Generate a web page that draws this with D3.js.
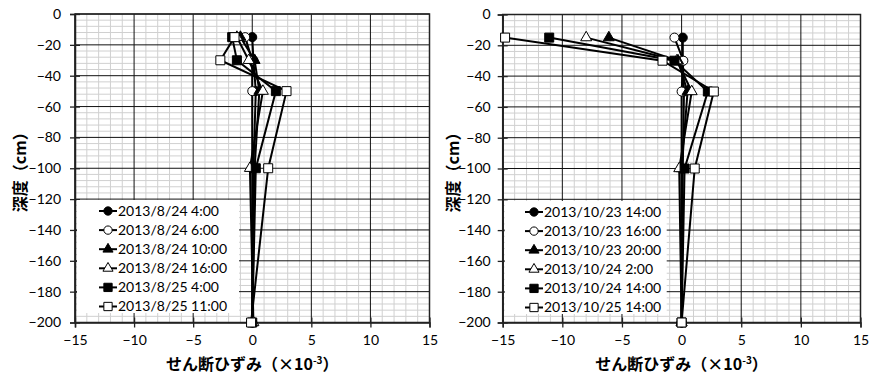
<!DOCTYPE html>
<html><head><meta charset="utf-8">
<script src="https://cdn.jsdelivr.net/npm/d3@7/dist/d3.min.js"></script>
<style>body{margin:0;background:#fff}</style>
</head><body>
<svg id="c" width="880" height="378"></svg>
<script>
// ---- data ----
const depths = [-15, -30, -50, -100, -200];
const xTicks = [-15, -10, -5, 0, 5, 10, 15];
const yTicks = [0, -20, -40, -60, -80, -100, -120, -140, -160, -180, -200];

const leftNames = ["2013/8/24 4:00", "2013/8/24 6:00", "2013/8/24 10:00",
                   "2013/8/24 16:00", "2013/8/25 4:00", "2013/8/25 11:00"];
const leftValues = [
  [0.0, 0.1, 0.3, 0.1, 0.0],
  [-0.6, 0.0, 0.0, 0.0, 0.0],
  [-1.0, 0.2, 0.6, 0.2, 0.0],
  [-1.3, -0.3, 0.9, -0.2, 0.1],
  [-1.7, -1.3, 2.0, 0.3, 0.0],
  [-1.5, -2.7, 2.9, 1.35, -0.1]
];

const rightNames = ["2013/10/23 14:00", "2013/10/23 16:00", "2013/10/23 20:00",
                    "2013/10/24 2:00", "2013/10/24 14:00", "2013/10/25 14:00"];
const rightValues = [
  [0.1, 0.1, 0.2, 0.1, 0.0],
  [-0.6, 0.15, 0.0, 0.0, 0.0],
  [-6.1, -0.3, 0.5, 0.0, 0.0],
  [-8.0, -0.4, 0.85, -0.2, 0.0],
  [-11.1, -0.6, 2.2, 0.25, 0.0],
  [-14.8, -1.6, 2.7, 1.1, 0.0]
];

const xTitle = "せん断ひずみ（×10";
const xTitleSup = "-3";
const xTitleEnd = "）";
const yTitle = "深度（cm）";

// ---- styles ----
const markerShapes = [d3.symbolCircle, d3.symbolCircle, d3.symbolTriangle, d3.symbolTriangle, d3.symbolSquare, d3.symbolSquare];
const markerSizes = [64, 64, 52, 52, 81, 81];
const markerFills = ["#000", "#fff", "#000", "#fff", "#000", "#fff"];
const tickFont = "Lato, 'Liberation Sans', sans-serif";
const cjkFont = "'Noto Sans CJK JP', sans-serif";

const svg = d3.select("#c");

function drawChart(cfg) {
  const g = svg.append("g");
  const x = d3.scaleLinear().domain([-15, 15]).range([cfg.x0, cfg.x1]);
  const y = d3.scaleLinear().domain([0, -200]).range([cfg.y0, cfg.y1]);

  // minor grid
  const minorX = d3.range(-15, 15.01, 1).filter(v => v % 5 !== 0);
  const minorY = d3.range(0, -200.01, -4).filter(v => v % 20 !== 0);
  g.append("g").selectAll("line").data(minorX).join("line")
    .attr("x1", d => x(d)).attr("x2", d => x(d))
    .attr("y1", cfg.y0).attr("y2", cfg.y1)
    .attr("stroke", "#d0d0d0").attr("stroke-width", 1);
  g.append("g").selectAll("line").data(minorY).join("line")
    .attr("y1", d => y(d)).attr("y2", d => y(d))
    .attr("x1", cfg.x0).attr("x2", cfg.x1)
    .attr("stroke", "#d0d0d0").attr("stroke-width", 1);
  // major grid
  g.append("g").selectAll("line").data(xTicks).join("line")
    .attr("x1", d => x(d)).attr("x2", d => x(d))
    .attr("y1", cfg.y0).attr("y2", cfg.y1)
    .attr("stroke", "#111").attr("stroke-width", 1);
  g.append("g").selectAll("line").data(yTicks).join("line")
    .attr("y1", d => y(d)).attr("y2", d => y(d))
    .attr("x1", cfg.x0).attr("x2", cfg.x1)
    .attr("stroke", "#111").attr("stroke-width", 1);

  // axes
  const xAxis = d3.axisBottom(x).tickValues(xTicks).tickSize(5).tickPadding(8)
    .tickFormat(d3.format("d"));
  const gx = g.append("g").attr("transform", `translate(0,${cfg.y1})`).call(xAxis);
  gx.select(".domain").attr("stroke", "#222").attr("stroke-width", 1.5);
  gx.selectAll(".tick line").attr("y1", -5).attr("stroke", "#222").attr("stroke-width", 1.3);
  gx.selectAll("text").attr("font-family", tickFont).attr("font-size", 14).attr("fill", "#000");

  const yAxis = d3.axisLeft(y).tickValues(yTicks).tickSize(5).tickPadding(cfg.yPad)
    .tickFormat(d3.format("d"));
  const gy = g.append("g").attr("transform", `translate(${cfg.x0},0)`).call(yAxis);
  gy.select(".domain").attr("stroke", "#222").attr("stroke-width", 1.5);
  gy.selectAll(".tick line").attr("x1", 5).attr("stroke", "#222").attr("stroke-width", 1.3);
  gy.selectAll("text").attr("font-family", tickFont).attr("font-size", 14).attr("fill", "#000");

  // border
  g.append("rect").attr("x", cfg.x0).attr("y", cfg.y0)
    .attr("width", cfg.x1 - cfg.x0).attr("height", cfg.y1 - cfg.y0)
    .attr("fill", "none").attr("stroke", "#222").attr("stroke-width", 1.5);

  // legend box
  const lg = g.append("g");
  lg.append("rect").attr("x", cfg.x0 + 2).attr("y", cfg.legY)
    .attr("width", cfg.legW).attr("height", 113).attr("fill", "#fff");

  // series
  const line = d3.line().x(d => x(d[0])).y(d => y(d[1]));
  cfg.values.forEach((vals, i) => {
    const pts = vals.map((v, j) => [v, depths[j]]);
    g.append("path").attr("d", line(pts)).attr("fill", "none")
      .attr("stroke", "#000").attr("stroke-width", 2);
    g.append("g").selectAll("path").data(pts).join("path")
      .attr("transform", d => `translate(${x(d[0])},${y(d[1])})`)
      .attr("d", d3.symbol().type(markerShapes[i]).size(markerSizes[i]))
      .attr("fill", markerFills[i]).attr("stroke", "#000").attr("stroke-width", 1);
  });

  // legend items
  cfg.names.forEach((name, i) => {
    const yy = cfg.legY + 11 + i * 19.1;
    const mx = cfg.legMx;
    lg.append("line").attr("x1", mx - 9).attr("x2", mx + 9)
      .attr("y1", yy).attr("y2", yy).attr("stroke", "#000").attr("stroke-width", 2);
    lg.append("path").attr("transform", `translate(${mx},${yy})`)
      .attr("d", d3.symbol().type(markerShapes[i]).size(markerSizes[i] * 0.85))
      .attr("fill", markerFills[i]).attr("stroke", "#000").attr("stroke-width", 1);
    lg.append("text").attr("x", mx + 10).attr("y", yy).attr("dy", "0.35em")
      .attr("font-family", tickFont).attr("font-size", 14).attr("fill", "#000").text(name);
  });

  // titles
  const xt = g.append("text").attr("x", x(0)).attr("y", 370).attr("text-anchor", "middle")
    .attr("font-family", cjkFont).attr("font-weight", "bold").attr("font-size", 16).attr("fill", "#000");
  xt.append("tspan").text(xTitle);
  xt.append("tspan").attr("dy", -6).attr("font-size", 10).text(xTitleSup);
  xt.append("tspan").attr("dy", 6).text(xTitleEnd);

  g.append("text").attr("transform", `translate(${cfg.ytX},${(cfg.y0 + cfg.y1) / 2}) rotate(-90)`)
    .attr("text-anchor", "middle").attr("dy", "0.35em")
    .attr("font-family", cjkFont).attr("font-weight", "bold").attr("font-size", 16).attr("fill", "#000")
    .text(yTitle);
}

drawChart({x0: 75, x1: 429.5, y0: 14, y1: 322.5, yPad: 9, values: leftValues, names: leftNames,
           legY: 200, legW: 162, legMx: 108, ytX: 20});
drawChart({x0: 502.7, x1: 860.5, y0: 14.5, y1: 322.5, yPad: 7, values: rightValues, names: rightNames,
           legY: 201, legW: 162, legMx: 534, ytX: 453});
</script>
</body></html>
